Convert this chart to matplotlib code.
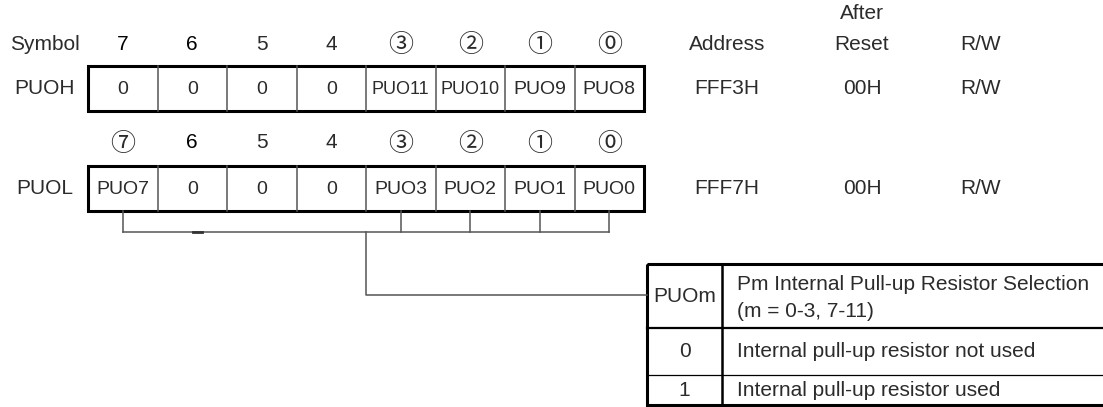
import matplotlib.pyplot as plt

plt.rcParams['font.family'] = ['Liberation Sans', 'DejaVu Sans']

# register contents
symbols = ['PUOH', 'PUOL']
bit_labels = [
    ['7', '6', '5', '4', '③', '②', '①', '⓪'],
    ['⑦', '6', '5', '4', '③', '②', '①', '⓪'],
]
cells = [
    ['0', '0', '0', '0', 'PUO11', 'PUO10', 'PUO9', 'PUO8'],
    ['PUO7', '0', '0', '0', 'PUO3', 'PUO2', 'PUO1', 'PUO0'],
]
addresses = ['FFF3H', 'FFF7H']
reset_values = ['00H', '00H']
rw_values = ['R/W', 'R/W']
headers = ['Address', 'After\nReset', 'R/W']

# bits of PUOL that feed the connector
linked_bits = [0, 4, 5, 6, 7]

# description table
table_head = ['PUOm', 'Pm Internal Pull-up Resistor Selection\n(m = 0-3, 7-11)']
table_rows = [
    ['0', 'Internal pull-up resistor not used'],
    ['1', 'Internal pull-up resistor used'],
]

# --- layout (pixel units) ---
W, H = 1103, 407
X0, CW = 88, 69.5
row_top = [66, 166]
ROW_H = 45
bit_y = [44, 143]
col_x = [727, 862, 981]
TXT = '#2b2b2b'
FS = 15
CIRCLED = ['Noto Sans CJK JP', 'DejaVu Sans']

fig = plt.figure(figsize=(W / 100, H / 100), dpi=100)
ax = fig.add_axes([0, 0, 1, 1])
ax.set_xlim(0, W)
ax.set_ylim(H, 0)
ax.axis('off')

ax.text(45, bit_y[0], 'Symbol', ha='center', va='center', fontsize=FS, color=TXT)
for x, h in zip(col_x, headers):
    y = 29 if '\n' in h else bit_y[0]
    ax.text(x, y, h, ha='center', va='center', fontsize=FS, color=TXT, linespacing=1.75)

for r in range(2):
    top = row_top[r]
    mid = top + ROW_H / 2
    ax.text(45, mid, symbols[r], ha='center', va='center', fontsize=FS, color=TXT)
    for i in range(8):
        cx = X0 + CW * (i + 0.5)
        lab = bit_labels[r][i]
        if lab.isdigit() and lab.isascii():
            ax.text(cx, bit_y[r], lab, ha='center', va='center', fontsize=FS,
                    color='black' if lab in ('7', '6') else TXT)
        else:
            ax.text(cx, bit_y[r] + 1, lab, ha='center', va='center', fontsize=18,
                    color=TXT, family=CIRCLED)
        txt = cells[r][i]
        fs = 13 if len(txt) > 4 else 14
        ax.text(cx, mid + 1, txt, ha='center', va='center', fontsize=fs, color=TXT)
        if i > 0:
            x = X0 + CW * i
            ax.plot([x, x], [top, top + ROW_H], color='#555555', lw=1.1)
    ax.add_patch(plt.Rectangle((X0, top), CW * 8, ROW_H, fill=False, ec='black', lw=2.2))
    ax.text(col_x[0], mid, addresses[r], ha='center', va='center', fontsize=FS, color=TXT)
    ax.text(col_x[1], mid, reset_values[r], ha='center', va='center', fontsize=FS, color=TXT)
    ax.text(col_x[2], mid, rw_values[r], ha='center', va='center', fontsize=FS, color=TXT)

# connector lines from PUOL bits to the table
bot = row_top[1] + ROW_H
bus_y = 232
xs = [X0 + CW * (i + 0.5) for i in linked_bits]
lc = '#555555'
for x in xs:
    ax.plot([x, x], [bot, bus_y], color=lc, lw=1.1)
ax.plot([min(xs), max(xs)], [bus_y, bus_y], color=lc, lw=1.1)
ax.plot([193, 202], [bus_y, bus_y], color='#333333', lw=2.0)
drop_x = X0 + CW * 4
tab_x0, tab_x1 = 647, 1106
tab_y = [264, 328, 375, 405]
ax.plot([drop_x, drop_x, tab_x0], [bus_y, 295, 295], color=lc, lw=1.1)

# description table
div_x = 722
ax.add_patch(plt.Rectangle((tab_x0, tab_y[0]), tab_x1 - tab_x0, tab_y[-1] - tab_y[0],
                           fill=False, ec='black', lw=2.2))
ax.plot([div_x, div_x], [tab_y[0], tab_y[-1]], color='black', lw=1.8)
ax.plot([tab_x0, tab_x1], [tab_y[1], tab_y[1]], color='black', lw=1.6)
ax.plot([tab_x0, tab_x1], [tab_y[2], tab_y[2]], color='black', lw=0.9)

ax.text((tab_x0 + div_x) / 2, (tab_y[0] + tab_y[1]) / 2, table_head[0],
        ha='center', va='center', fontsize=FS, color=TXT)
ax.text(div_x + 15, (tab_y[0] + tab_y[1]) / 2 + 2, table_head[1],
        ha='left', va='center', fontsize=FS, color=TXT, linespacing=1.5)
for k, (v, desc) in enumerate(table_rows):
    ym = (tab_y[k + 1] + tab_y[k + 2]) / 2
    ax.text((tab_x0 + div_x) / 2, ym, v, ha='center', va='center', fontsize=FS, color=TXT)
    ax.text(div_x + 15, ym, desc, ha='left', va='center', fontsize=FS, color=TXT)

fig.savefig('out.png', dpi=100)
